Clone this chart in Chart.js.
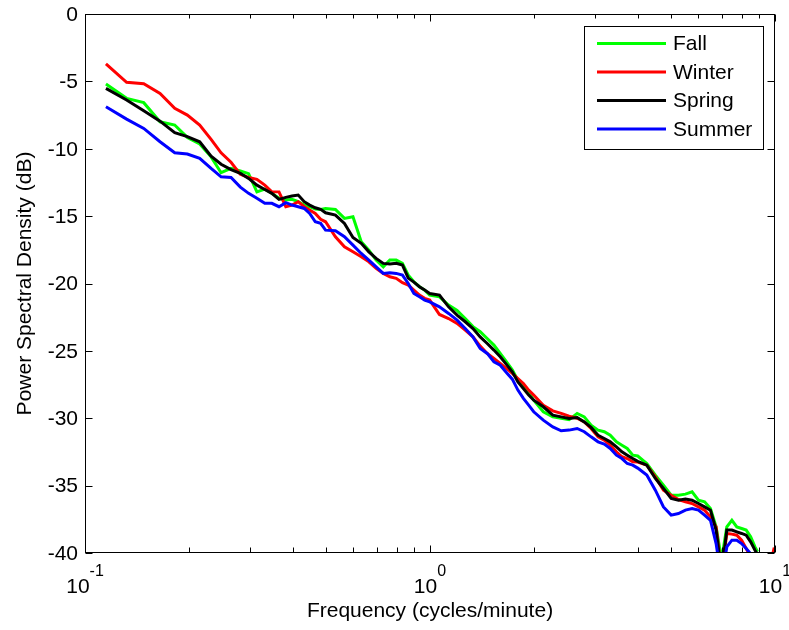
<!DOCTYPE html>
<html lang="en">
<head>
  <meta charset="UTF-8" />
  <title>Power Spectral Density by Season</title>
  <script src="https://cdn.jsdelivr.net/npm/chart.js@4.4.1/dist/chart.umd.min.js"></script>
  <style>
    html, body { margin: 0; padding: 0; background: #fff; }
    #psd { display: block; }
  </style>
</head>
<body>
  <canvas id="psd" width="789" height="630"></canvas>

<script>
  // frequencies (cycles/minute)
  const freq = [
    0.115, 0.132, 0.148, 0.165, 0.182, 0.198, 0.215, 0.232, 0.248, 0.265, 0.282, 0.298,
    0.315, 0.332, 0.348, 0.365, 0.382, 0.398, 0.415, 0.432, 0.448, 0.465, 0.482, 0.498,
    0.532, 0.565, 0.598, 0.632, 0.665, 0.698, 0.732, 0.765, 0.798, 0.832, 0.865, 0.898, 0.932, 0.965, 0.998,
    1.065, 1.132, 1.198, 1.265, 1.332, 1.398, 1.465, 1.532, 1.598, 1.665, 1.732, 1.798, 1.865, 1.932, 1.998,
    2.13, 2.27, 2.4, 2.53, 2.67, 2.8, 2.93, 3.07, 3.2, 3.33, 3.47, 3.6, 3.73, 3.87, 4.0,
    4.25, 4.5, 4.75, 5.0, 5.25, 5.5, 5.75, 6.0, 6.25, 6.5, 6.75, 7.0,
    7.25, 7.5, 7.75, 8.0, 8.25, 8.5, 8.75, 8.9,
    9.3, 9.7, 9.95
  ];

  // PSD in dB, one list per season
  const fall = [
    -5.2, -6.26, -6.58, -8.0, -8.24, -9.16, -9.65, -10.6, -11.78, -11.46, -11.65, -11.85,
    -13.2, -13.0, -13.3, -13.68, -13.8, -13.75, -13.93, -14.18, -14.3, -14.48, -14.5, -14.43,
    -14.5, -15.17, -15.05, -16.9, -17.52, -18.26, -18.76, -18.26, -18.26, -18.5, -19.38, -19.87, -20.24, -20.49, -20.86,
    -20.99, -21.6, -22.0, -22.6, -23.2, -23.58, -24.08, -24.57, -25.19, -25.8, -26.4, -27.17, -27.54, -28.04, -28.66,
    -29.52, -29.9, -30.01, -30.1, -29.64, -29.9, -30.51, -30.88, -31.0, -31.26, -31.75, -32.0, -32.24, -32.74, -32.8,
    -33.36, -34.22, -34.97, -35.71, -35.71, -35.63, -35.46, -36.08, -36.2, -36.7, -38.06, -40.5,
    -38.06, -37.57, -38.06, -38.18, -38.3, -38.8, -39.55, -39.9,
    null, null, null
  ];
  const winter = [
    -3.7, -5.07, -5.18, -5.9, -7.0, -7.5, -8.24, -9.3, -10.3, -11.0, -11.9, -12.13,
    -12.27, -12.7, -13.19, -13.2, -14.3, -14.18, -13.93, -14.3, -14.55, -14.8, -15.24, -15.42,
    -16.53, -17.27, -17.65, -18.02, -18.39, -18.88, -19.25, -19.5, -19.62, -19.94, -20.12, -20.49, -20.86, -21.1, -21.23,
    -22.3, -22.6, -22.96, -23.46, -23.96, -24.65, -25.19, -25.56, -25.93, -26.3, -26.67, -27.05, -27.42, -27.91, -28.28,
    -29.03, -29.45, -29.64, -29.84, -30.0, -30.27, -30.76, -31.38, -31.63, -32.0, -32.49, -32.86, -32.99, -33.23, -33.25,
    -33.48, -34.35, -35.34, -35.71, -36.03, -36.2, -36.33, -36.58, -36.82, -37.32, -38.06, -41.5,
    -38.55, -38.6, -38.68, -39.05, -39.67, -40.3, -40.6, -41.0,
    -41.5, -40.8, -39.6
  ];
  const spring = [
    -5.52, -6.38, -7.18, -7.95, -8.81, -9.1, -9.48, -10.55, -11.15, -11.55, -11.82, -12.2,
    -12.7, -13.02, -13.31, -13.76, -13.61, -13.51, -13.44, -13.93, -14.18, -14.38, -14.5, -14.75,
    -14.92, -15.54, -16.58, -17.02, -17.65, -18.14, -18.51, -18.56, -18.5, -18.63, -19.6, -19.9, -20.24, -20.49, -20.74,
    -20.86, -21.73, -22.35, -22.84, -23.34, -23.96, -24.45, -24.94, -25.44, -26.0, -26.55, -27.3, -27.79, -28.28, -28.66,
    -29.15, -29.77, -29.9, -30.01, -29.94, -30.27, -30.68, -31.26, -31.5, -31.75, -32.12, -32.49, -32.74, -32.99, -33.2,
    -33.48, -34.47, -35.21, -35.95, -36.08, -36.0, -36.08, -36.33, -36.58, -36.82, -38.3, -41.5,
    -38.3, -38.3, -38.43, -38.55, -38.68, -39.17, -39.8, -40.1,
    null, null, null
  ];
  const summer = [
    -6.88, -7.8, -8.49, -9.48, -10.3, -10.39, -10.71, -11.46, -12.08, -12.13, -12.85, -13.31,
    -13.68, -14.05, -14.05, -14.3, -14.0, -14.18, -14.3, -14.43, -14.8, -15.42, -15.54, -16.04,
    -16.09, -16.53, -17.15, -17.77, -18.26, -18.76, -19.25, -19.2, -19.25, -19.38, -20.0, -20.74, -20.99, -21.23, -21.36,
    -21.73, -22.22, -22.72, -23.34, -23.96, -24.82, -25.19, -25.81, -26.06, -26.6, -27.1, -27.91, -28.53, -29.03, -29.52,
    -30.14, -30.64, -30.93, -30.88, -30.76, -31.0, -31.38, -31.75, -31.92, -32.24, -32.74, -32.99, -33.36, -33.48, -33.7,
    -34.22, -35.34, -36.58, -37.19, -37.07, -36.82, -36.7, -36.82, -37.19, -37.57, -39.3, -42.0,
    -39.55, -39.05, -39.05, -39.3, -39.67, -40.05, -40.3, -40.6,
    null, null, null
  ];

  const seasons = ['Fall', 'Winter', 'Spring', 'Summer'];
  const colors = ['#00ff00', '#ff0000', '#000000', '#0000ff'];

  // axis ticks
  const yTicks = [0, -5, -10, -15, -20, -25, -30, -35, -40];
  const xMajor = [0.1, 1, 10];
  const xExponents = ['-1', '0', '1'];
  const xMinor = [0.2, 0.3, 0.4, 0.5, 0.6, 0.7, 0.8, 0.9, 2, 3, 4, 5, 6, 7, 8, 9];

  const FONT = 'Arial, "Liberation Sans", Helvetica, sans-serif';

  const series = [fall, winter, spring, summer];
  const datasets = series.map((vals, i) => ({
    label: seasons[i],
    data: freq.map((f, k) => ({ x: f, y: vals[k] })),
    borderColor: colors[i],
    backgroundColor: colors[i],
    borderWidth: 3,
    pointRadius: 0,
    tension: 0,
    clip: 0,
    order: seasons.length - i   // later seasons drawn on top
  }));

  // box, inward ticks, tick labels and axis titles
  const axesFrame = {
    id: 'axesFrame',
    afterDraw(chart) {
      const { ctx, chartArea: a, scales } = chart;
      const xs = scales.x, ys = scales.y;
      const L = Math.round(a.left) + 0.5, R = Math.round(a.right) - 0.5;
      const T = Math.round(a.top) + 0.5, B = Math.round(a.bottom) - 0.5;
      ctx.save();
      ctx.strokeStyle = '#000';
      ctx.lineWidth = 1;
      ctx.strokeRect(L, T, R - L, B - T);

      ctx.beginPath();
      yTicks.forEach(v => {
        const y = Math.round(ys.getPixelForValue(v)) + 0.5;
        ctx.moveTo(L, y); ctx.lineTo(L + 7, y);
        ctx.moveTo(R, y); ctx.lineTo(R - 7, y);
      });
      xMajor.forEach(v => {
        const x = Math.round(xs.getPixelForValue(v)) + 0.5;
        ctx.moveTo(x, B); ctx.lineTo(x, B - 7);
        ctx.moveTo(x, T); ctx.lineTo(x, T + 7);
      });
      xMinor.forEach(v => {
        const x = Math.round(xs.getPixelForValue(v)) + 0.5;
        ctx.moveTo(x, B); ctx.lineTo(x, B - 5);
        ctx.moveTo(x, T); ctx.lineTo(x, T + 4);
      });
      ctx.stroke();

      ctx.fillStyle = '#000';
      ctx.font = '21px ' + FONT;
      ctx.textAlign = 'right';
      ctx.textBaseline = 'middle';
      yTicks.forEach(v => {
        ctx.fillText(String(v), a.left - 7, ys.getPixelForValue(v) + 1);
      });

      // 10^n labels under the x axis
      ctx.textBaseline = 'alphabetic';
      ctx.textAlign = 'left';
      xMajor.forEach((v, i) => {
        const x = xs.getPixelForValue(v);
        ctx.font = '21px ' + FONT;
        const wb = ctx.measureText('10').width;
        ctx.font = '16px ' + FONT;
        const we = ctx.measureText(xExponents[i]).width;
        const x0 = x - (wb + we) / 2;
        ctx.font = '21px ' + FONT;
        ctx.fillText('10', x0, 593);
        ctx.font = '16px ' + FONT;
        ctx.fillText(xExponents[i], x0 + wb, 576);
      });

      ctx.font = '21px ' + FONT;
      ctx.textAlign = 'center';
      ctx.fillText('Frequency (cycles/minute)', (a.left + a.right) / 2, 617);

      ctx.translate(31, (a.top + a.bottom) / 2);
      ctx.rotate(-Math.PI / 2);
      ctx.fillText('Power Spectral Density (dB)', 0, 0);
      ctx.restore();
    }
  };

  // boxed legend in the upper right corner
  const boxLegend = {
    id: 'boxLegend',
    afterDraw(chart) {
      const { ctx } = chart;
      const left = 584, top = 26, width = 179, height = 123;
      const rowY = [43.5, 72, 100.5, 129];
      ctx.save();
      ctx.fillStyle = '#fff';
      ctx.fillRect(left, top, width, height);
      ctx.strokeStyle = '#000';
      ctx.lineWidth = 1;
      ctx.strokeRect(left + 0.5, top + 0.5, width, height);
      ctx.font = '21px ' + FONT;
      ctx.textAlign = 'left';
      ctx.textBaseline = 'middle';
      chart.data.datasets.forEach((ds, i) => {
        ctx.strokeStyle = ds.borderColor;
        ctx.lineWidth = 3;
        ctx.beginPath();
        ctx.moveTo(597, rowY[i]);
        ctx.lineTo(666, rowY[i]);
        ctx.stroke();
        ctx.fillStyle = '#000';
        ctx.fillText(ds.label, 673, rowY[i] + 1);
      });
      ctx.restore();
    }
  };

  new Chart(document.getElementById('psd').getContext('2d'), {
    type: 'line',
    data: { datasets },
    options: {
      responsive: false,
      animation: false,
      layout: { padding: { top: 14, right: 14, left: 0, bottom: 0 } },
      scales: {
        x: {
          type: 'logarithmic',
          min: 0.1,
          max: 10,
          grid: { display: false },
          border: { display: false },
          ticks: { display: false },
          afterFit: s => { s.height = 77; }
        },
        y: {
          min: -40,
          max: 0,
          grid: { display: false },
          border: { display: false },
          ticks: { display: false },
          afterFit: s => { s.width = 85; }
        }
      },
      plugins: {
        legend: { display: false },
        tooltip: { enabled: false }
      }
    },
    plugins: [axesFrame, boxLegend]
  });
</script>
</body>
</html>
